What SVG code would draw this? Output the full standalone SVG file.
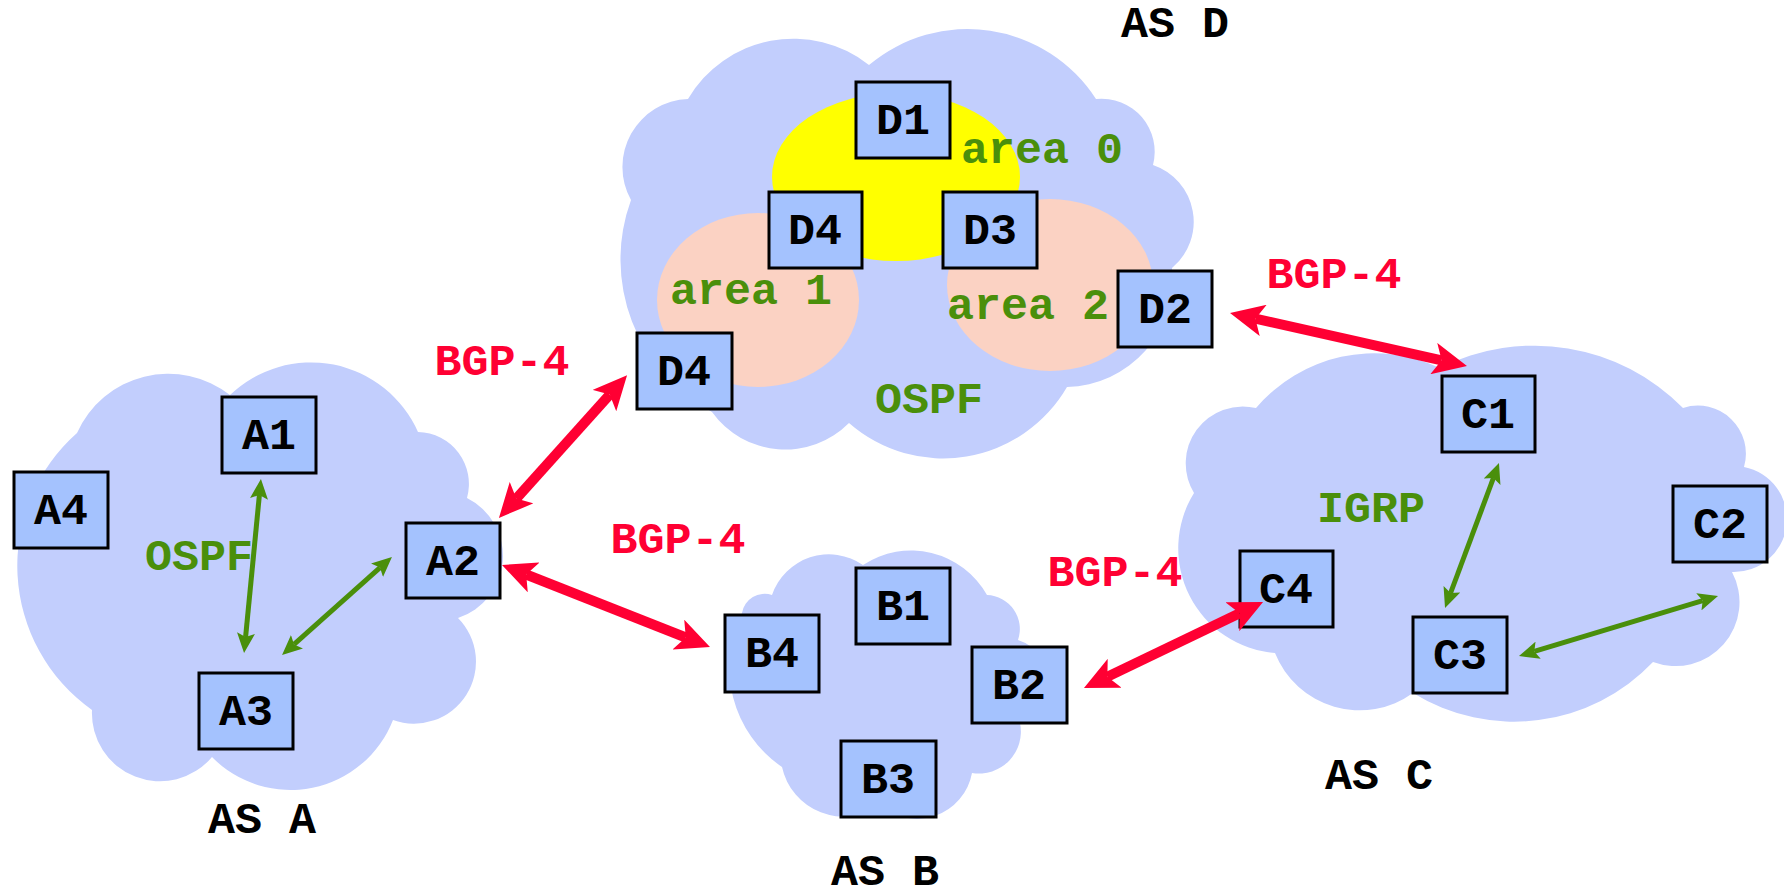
<svg xmlns="http://www.w3.org/2000/svg" width="1784" height="896" viewBox="0 0 1784 896">
  <style>
    .cloud { fill: #C2CEFD; stroke: none; }
    .area0 { fill: #FFFF00; }
    .area12 { fill: #FBD2C3; }
    .box { fill: #A4C2FE; stroke: #000; stroke-width: 3; }
    text { font-family: "Liberation Mono", "DejaVu Sans Mono", monospace; font-weight: bold; font-size: 45px; text-anchor: middle; }
    .lbl { fill: #000; }
    .as { fill: #000; }
    .proto { fill: #4A8F0B; }
    .bgp { fill: #FF0033; }
    .ebgp { stroke: #FF0033; stroke-width: 10; fill: none; marker-start: url(#redHead); marker-end: url(#redHead); }
    .igp { stroke: #4A8F0B; stroke-width: 5; fill: none; marker-start: url(#greenHead); marker-end: url(#greenHead); }
  </style>
  <defs>
    <marker id="redHead" viewBox="0 -16 34 32" refX="8" refY="0" markerWidth="34" markerHeight="32" markerUnits="userSpaceOnUse" orient="auto-start-reverse">
      <path d="M0,-16 L34,0 L0,16 L8,0 Z" fill="#FF0033"/>
    </marker>
    <marker id="greenHead" viewBox="0 -9 20 18" refX="4" refY="0" markerWidth="20" markerHeight="18" markerUnits="userSpaceOnUse" orient="auto-start-reverse">
      <path d="M0,-9 L20,0 L0,9 L4,0 Z" fill="#4A8F0B"/>
    </marker>
  </defs>

  <!-- autonomous system clouds -->
  <g id="clouds">
    <path id="cloud-a" class="cloud" d="M77,433 A100,100 0 0 1 230,395 A117,117 0 0 1 418,432 A52,52 0 0 1 467,498 A65,65 0 0 1 458,618 A62,62 0 0 1 393,720 A110,110 0 0 1 212,757 A68,68 0 0 1 92,710 A177,177 0 0 1 77,433 Z"/>
    <path id="cloud-d" class="cloud" d="M688,99 A122,122 0 0 1 869,65 A153,153 0 0 1 1096,99 A53,53 0 0 1 1153,165 A60,60 0 0 1 1172,268 A108,108 0 0 1 1067,387 A143,143 0 0 1 849,423 A90,90 0 0 1 712,412 A173,173 0 0 1 631,200 A68,68 0 0 1 688,99 Z"/>
    <path id="cloud-b" class="cloud" d="M772,595 A60,60 0 0 1 863,565 A87,87 0 0 1 987,595 A34,34 0 0 1 1018,640 A44,44 0 0 1 1020,723 A42,42 0 0 1 972,773 A56,56 0 0 1 880,805 A63,63 0 0 1 782,767 A121,121 0 0 1 742,613 A23,23 0 0 1 772,595 Z"/>
    <path id="cloud-c" class="cloud" d="M1256,408 A155,155 0 0 1 1440,368 A209,209 0 0 1 1683,408 A48,48 0 0 1 1744,467 A53,53 0 0 1 1732,572 A64,64 0 0 1 1653,662 A192,192 0 0 1 1413,693 A91,91 0 0 1 1275,653 A105,105 0 0 1 1194,493 A57,57 0 0 1 1256,408 Z"/>
  </g>

  <!-- OSPF areas inside AS D -->
  <g id="ospf-areas">
    <ellipse class="area12" cx="758" cy="300" rx="101" ry="87"/>
    <ellipse class="area12" cx="1050" cy="285" rx="103" ry="86"/>
    <ellipse class="area0" cx="896" cy="177" rx="124" ry="84"/>
  </g>

  <!-- routers -->
  <g id="A1"><rect class="box" x="222" y="397" width="94" height="76"/><text class="lbl" x="269" y="449">A1</text></g>
  <g id="A2"><rect class="box" x="406" y="523" width="94" height="75"/><text class="lbl" x="453" y="575">A2</text></g>
  <g id="A3"><rect class="box" x="199" y="673" width="94" height="76"/><text class="lbl" x="246" y="725">A3</text></g>
  <g id="A4"><rect class="box" x="14" y="472" width="94" height="76"/><text class="lbl" x="61" y="524">A4</text></g>

  <g id="D1"><rect class="box" x="856" y="82" width="94" height="76"/><text class="lbl" x="903" y="134">D1</text></g>
  <g id="D2"><rect class="box" x="1118" y="271" width="94" height="76"/><text class="lbl" x="1165" y="323">D2</text></g>
  <g id="D3"><rect class="box" x="943" y="192" width="94" height="76"/><text class="lbl" x="990" y="244">D3</text></g>
  <g id="D4-core"><rect class="box" x="769" y="192" width="93" height="76"/><text class="lbl" x="815" y="244">D4</text></g>
  <g id="D4-edge"><rect class="box" x="637" y="333" width="95" height="76"/><text class="lbl" x="684" y="385">D4</text></g>

  <g id="B1"><rect class="box" x="856" y="568" width="94" height="76"/><text class="lbl" x="903" y="620">B1</text></g>
  <g id="B2"><rect class="box" x="972" y="647" width="95" height="76"/><text class="lbl" x="1019" y="699">B2</text></g>
  <g id="B3"><rect class="box" x="841" y="741" width="95" height="76"/><text class="lbl" x="888" y="793">B3</text></g>
  <g id="B4"><rect class="box" x="725" y="615" width="94" height="77"/><text class="lbl" x="772" y="667">B4</text></g>

  <g id="C1"><rect class="box" x="1442" y="376" width="93" height="76"/><text class="lbl" x="1488" y="428">C1</text></g>
  <g id="C2"><rect class="box" x="1673" y="486" width="94" height="76"/><text class="lbl" x="1720" y="538">C2</text></g>
  <g id="C3"><rect class="box" x="1413" y="617" width="94" height="76"/><text class="lbl" x="1460" y="669">C3</text></g>
  <g id="C4"><rect class="box" x="1240" y="551" width="93" height="76"/><text class="lbl" x="1286" y="603">C4</text></g>

  <!-- labels -->
  <g id="labels">
    <text class="as" x="1175" y="37">AS D</text>
    <text class="as" x="262" y="833">AS A</text>
    <text class="as" x="885" y="885">AS B</text>
    <text class="as" x="1379" y="789">AS C</text>
    <text class="proto" x="1042" y="163" xml:space="preserve">area 0</text>
    <text class="proto" x="751" y="304" xml:space="preserve">area 1</text>
    <text class="proto" x="1028" y="319" xml:space="preserve">area 2</text>
    <text class="proto" x="929" y="413">OSPF</text>
    <text class="proto" x="199" y="570">OSPF</text>
    <text class="proto" x="1371" y="522">IGRP</text>
    <text class="bgp" x="502" y="375">BGP-4</text>
    <text class="bgp" x="678" y="553">BGP-4</text>
    <text class="bgp" x="1334" y="288">BGP-4</text>
    <text class="bgp" x="1115" y="586">BGP-4</text>
  </g>

  <!-- sessions: BGP-4 between systems, interior protocol inside -->
  <g id="connectors">
    <line class="ebgp" x1="516.3" y1="498.6" x2="609.7" y2="394.6"/>
    <line class="ebgp" x1="526.2" y1="574.5" x2="685.8" y2="637.5"/>
    <line class="ebgp" x1="1255.4" y1="318.7" x2="1441.6" y2="360.3"/>
    <line class="ebgp" x1="1107.4" y1="676.7" x2="1239.6" y2="613.3"/>
    <line class="igp" x1="259.4" y1="494.9" x2="245.6" y2="637.1"/>
    <line class="igp" x1="380" y1="567.6" x2="294" y2="644.4"/>
    <line class="igp" x1="1493.4" y1="478" x2="1450.6" y2="593"/>
    <line class="igp" x1="1534.3" y1="651.4" x2="1702.7" y2="600.6"/>
  </g>
</svg>
